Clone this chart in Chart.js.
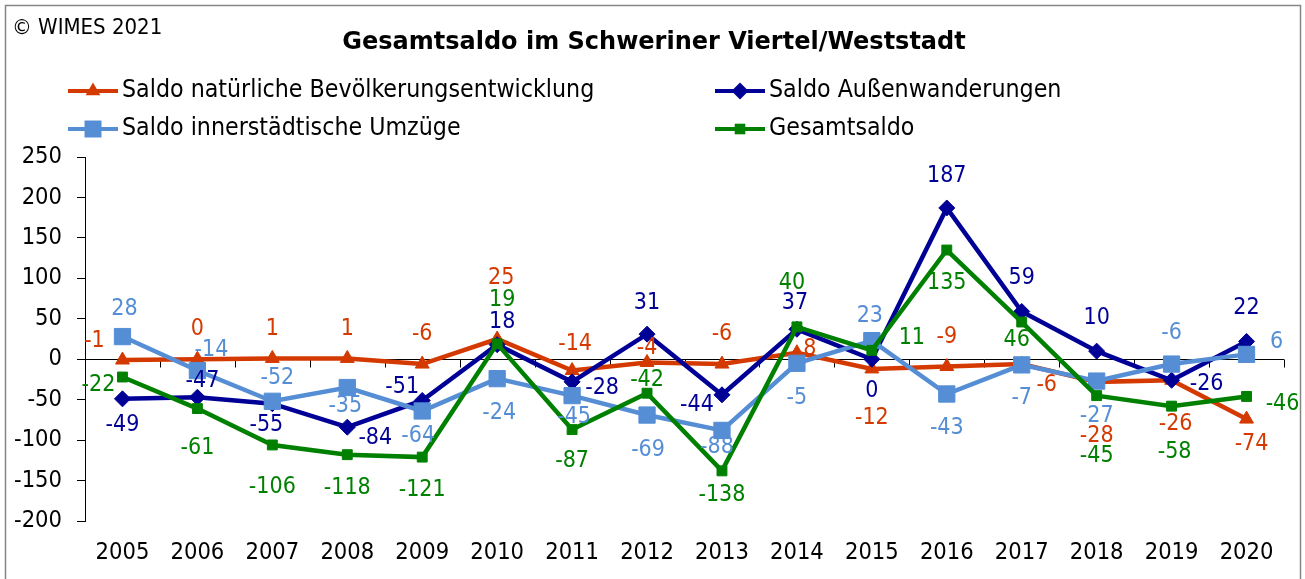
<!DOCTYPE html>
<html>
<head>
<meta charset="utf-8">
<script src="https://cdn.jsdelivr.net/npm/chart.js"></script>
<style>
  html, body { margin: 0; padding: 0; background: #fff; }
</style>
</head>
<body>
<canvas id="myChart" width="1305" height="579"></canvas>
<script>
// data
const years = ['2005', '2006', '2007', '2008', '2009', '2010', '2011', '2012',
               '2013', '2014', '2015', '2016', '2017', '2018', '2019', '2020'];
const natuerlich = [-1, 0, 1, 1, -6, 25, -14, -4, -6, 8, -12, -9, -6, -28, -26, -74];
const aussen = [-49, -47, -55, -84, -51, 18, -28, 31, -44, 37, 0, 187, 59, 10, -26, 22];
const innerstaedtisch = [28, -14, -52, -35, -64, -24, -45, -69, -88, -5, 23, -43, -7, -27, -6, 6];
const gesamt = [-22, -61, -106, -118, -121, 19, -87, -42, -138, 40, 11, 135, 46, -45, -58, -46];

// where each value label sits, relative to its point (px)
const offNat = [[-28,-19],[0,-30],[0,-29],[0,-29],[0,-30],[4,-61],[3,-27],[0,-14],[0,-30],[13,-4],[0,49],[0,-29],[25,21],[0,54],[4,44],[5,25]];
const offAus = [[0,26],[5,-16],[-6,21],[28,11],[-20,-13],[5,-23],[30,6],[0,-31],[-25,10],[-2,-26],[0,32],[0,-32],[0,-33],[0,-33],[35,4],[0,-33]];
const offInn = [[2,-28],[14,-21],[5,-23],[-2,18],[-4,25],[2,34],[2,21],[1,35],[-5,17],[0,35],[-2,-25],[0,34],[0,33],[0,35],[0,-31],[30,-12]];
const offGes = [[-24,8],[0,39],[0,42],[0,33],[0,33],[5,-44],[0,31],[0,-13],[0,24],[-5,-44],[40,-12],[0,33],[-5,18],[0,60],[3,46],[36,8]];

const RED = '#D43A00', NAVY = '#000096', LIGHT = '#558ED5', GREEN = '#008000';
const FONT = "'DejaVu Sans Condensed', 'DejaVu Sans', sans-serif";
const FONT_WIDE = "'DejaVu Sans', sans-serif";

Chart.defaults.font.family = FONT;
Chart.defaults.color = '#000';

function marker(ctx, style, x, y, r, color) {
  ctx.fillStyle = color;
  ctx.beginPath();
  if (style === 'triangle') {
    ctx.moveTo(x, y - r);
    ctx.lineTo(x + r * 0.866, y + r / 2);
    ctx.lineTo(x - r * 0.866, y + r / 2);
  } else if (style === 'rectRot') {
    ctx.moveTo(x - r, y); ctx.lineTo(x, y - r);
    ctx.lineTo(x + r, y); ctx.lineTo(x, y + r);
  } else {
    const s = r * Math.SQRT1_2;
    ctx.rect(x - s, y - s, 2 * s, 2 * s);
  }
  ctx.closePath();
  ctx.fill();
}

// frame, copyright, title and the two-column legend
const decorations = {
  id: 'decorations',
  beforeDraw(chart) {
    const ctx = chart.ctx;
    ctx.save();
    ctx.fillStyle = '#fff';
    ctx.fillRect(0, 0, chart.width, chart.height);
    ctx.strokeStyle = '#868686';
    ctx.lineWidth = 1.5;
    ctx.strokeRect(5.5, 5.5, 1295, 620);
    ctx.restore();
  },
  afterDraw(chart) {
    const ctx = chart.ctx;
    ctx.save();
    ctx.fillStyle = '#000';
    ctx.textBaseline = 'middle';
    ctx.textAlign = 'left';
    ctx.font = '22px ' + FONT;
    ctx.fillText('\u00A9 WIMES 2021', 12, 28);
    ctx.font = 'bold 24px ' + FONT_WIDE;
    ctx.textAlign = 'center';
    ctx.fillText('Gesamtsaldo im Schweriner Viertel/Weststadt', 654, 43);

    const items = [
      [0, 68, 91], [1, 715, 91], [2, 68, 129], [3, 715, 129]
    ];
    ctx.font = '24.7px ' + FONT;
    ctx.textAlign = 'left';
    items.forEach(([di, x, y]) => {
      const ds = chart.data.datasets[di];
      ctx.strokeStyle = ds.borderColor;
      ctx.lineWidth = 4;
      ctx.beginPath();
      ctx.moveTo(x, y);
      ctx.lineTo(x + 50, y);
      ctx.stroke();
      marker(ctx, ds.pointStyle, x + 25, y, ds.pointRadius + 0.5, ds.borderColor);
      ctx.fillStyle = '#000';
      ctx.fillText(ds.label, x + 54, y);
    });
    ctx.restore();
  }
};

// small tick marks hanging under the zero line at category boundaries
const zeroTicks = {
  id: 'zeroTicks',
  beforeDatasetsDraw(chart) {
    const ctx = chart.ctx;
    const xs = chart.scales.x, ys = chart.scales.y;
    const y0 = Math.round(ys.getPixelForValue(0)) + 0.5;
    ctx.save();
    ctx.strokeStyle = '#000';
    ctx.lineWidth = 1;
    ctx.beginPath();
    for (let i = 0; i <= years.length; i++) {
      const x = Math.round(xs.getPixelForValue(i - 0.5)) + 0.5;
      ctx.moveTo(x, y0);
      ctx.lineTo(x, y0 + 8);
    }
    ctx.stroke();
    ctx.restore();
  }
};

// value labels next to each point
const valueLabels = {
  id: 'valueLabels',
  afterDatasetsDraw(chart) {
    const ctx = chart.ctx;
    ctx.save();
    ctx.font = '23px ' + FONT;
    ctx.textAlign = 'center';
    ctx.textBaseline = 'middle';
    chart.data.datasets.forEach((ds, di) => {
      const meta = chart.getDatasetMeta(di);
      meta.data.forEach((pt, i) => {
        const o = ds.labelOffsets[i];
        ctx.fillStyle = ds.borderColor;
        ctx.fillText(String(ds.data[i]), pt.x + o[0], pt.y + o[1]);
      });
    });
    ctx.restore();
  }
};

const ctx = document.getElementById('myChart').getContext('2d');
const chart = new Chart(ctx, {
  type: 'line',
  data: {
    labels: years,
    datasets: [{
      label: 'Saldo natürliche Bevölkerungsentwicklung',
      data: natuerlich,
      labelOffsets: offNat,
      borderColor: RED,
      backgroundColor: RED,
      pointStyle: 'triangle',
      pointRadius: 8,
      order: 4
    }, {
      label: 'Saldo Außenwanderungen',
      data: aussen,
      labelOffsets: offAus,
      borderColor: NAVY,
      backgroundColor: NAVY,
      pointStyle: 'rectRot',
      pointRadius: 8,
      order: 3
    }, {
      label: 'Saldo innerstädtische Umzüge',
      data: innerstaedtisch,
      labelOffsets: offInn,
      borderColor: LIGHT,
      backgroundColor: LIGHT,
      pointStyle: 'rect',
      pointRadius: 11.5,
      order: 2
    }, {
      label: 'Gesamtsaldo',
      data: gesamt,
      labelOffsets: offGes,
      borderColor: GREEN,
      backgroundColor: GREEN,
      pointStyle: 'rect',
      pointRadius: 7,
      order: 1
    }]
  },
  options: {
    responsive: false,
    animation: false,
    devicePixelRatio: 1,
    elements: {
      line: { borderWidth: 4.5, tension: 0 },
      point: { borderWidth: 1, hoverRadius: 8 }
    },
    layout: { padding: { top: 157, right: 21, bottom: 0, left: 0 } },
    plugins: {
      legend: { display: false },
      tooltip: { enabled: false }
    },
    scales: {
      x: {
        offset: true,
        grid: { display: false, drawTicks: false },
        border: { display: false },
        ticks: { font: { size: 23.5 }, padding: 18, maxRotation: 0, autoSkip: false },
        afterFit: s => { s.height = 58; }
      },
      y: {
        min: -200,
        max: 250,
        ticks: { stepSize: 50, font: { size: 23.5 }, padding: 15 },
        grid: {
          color: c => (c.tick && c.tick.value === 0) ? '#000' : 'rgba(0,0,0,0)',
          tickColor: '#000',
          tickLength: 8,
          lineWidth: 1
        },
        border: { display: true, color: '#000', width: 1 },
        afterFit: s => { s.width = 85; }
      }
    }
  },
  plugins: [decorations, zeroTicks, valueLabels]
});
</script>
</body>
</html>
